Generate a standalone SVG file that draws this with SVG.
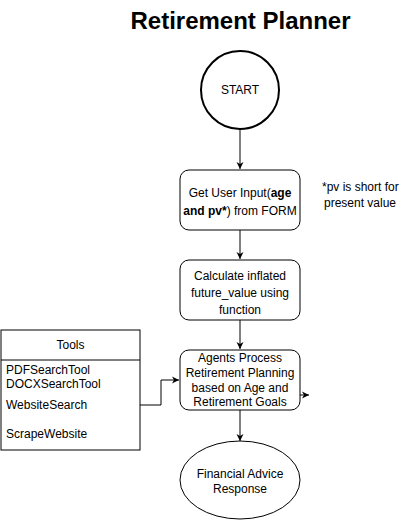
<svg xmlns="http://www.w3.org/2000/svg" width="401" height="521" viewBox="0 0 401 521">
<style>
text{font-family:"Liberation Sans",Arial,sans-serif;font-size:12px;fill:#000}
.c{text-anchor:middle}
.shape{fill:#fff;stroke:#000;stroke-width:1}
.edge{fill:none;stroke:#000;stroke-width:1}
.b{font-weight:bold}
</style>
<defs>
<marker id="arr" markerWidth="8" markerHeight="8" refX="7" refY="4" orient="auto" markerUnits="userSpaceOnUse">
<path d="M0,0.5 L7,4 L0,7.5 L2,4 Z" fill="#000"/>
</marker>
</defs>
<rect width="401" height="521" fill="#fff"/>
<text x="240.5" y="29" class="c b" style="font-size:24px">Retirement Planner</text>
<g id="connectors">
<path class="edge" d="M240,129 V169" marker-end="url(#arr)"/>
<path class="edge" d="M240,230 V259" marker-end="url(#arr)"/>
<path class="edge" d="M240,320 V349" marker-end="url(#arr)"/>
<path class="edge" d="M240,410 V441" marker-end="url(#arr)"/>
<path class="edge" d="M140,405 H161 V380 H179" marker-end="url(#arr)"/>
<path class="edge" d="M300,395 H309" marker-end="url(#arr)"/>
</g>
<g id="start">
<circle class="shape" cx="240" cy="90" r="39" style="stroke-width:2"/>
<text x="240" y="94" class="c">START</text>
</g>
<g id="input">
<rect class="shape" x="180" y="170" width="120" height="60" rx="9"/>
<text x="240" y="197" class="c">Get User Input(<tspan class="b">age</tspan></text>
<text x="240" y="215" class="c"><tspan class="b">and pv*</tspan>) from FORM</text>
</g>
<g id="note">
<text x="322" y="191">*pv is short for</text>
<text x="324" y="207">present value</text>
</g>
<g id="calc">
<rect class="shape" x="180" y="260" width="120" height="60" rx="9"/>
<text x="240" y="280" class="c">Calculate inflated</text>
<text x="240" y="297" class="c">future_value using</text>
<text x="240" y="314" class="c">function</text>
</g>
<g id="agents">
<rect class="shape" x="180" y="350" width="120" height="60" rx="9"/>
<text x="240" y="362" class="c">Agents Process</text>
<text x="240" y="377" class="c">Retirement Planning</text>
<text x="240" y="392" class="c">based on Age and</text>
<text x="240" y="406" class="c">Retirement Goals</text>
</g>
<g id="response">
<ellipse class="shape" cx="240" cy="480" rx="60" ry="39"/>
<text x="240" y="478" class="c">Financial Advice</text>
<text x="240" y="493" class="c">Response</text>
</g>
<g id="tools">
<rect class="shape" x="1" y="330" width="139" height="120"/>
<line class="edge" x1="1" y1="360" x2="140" y2="360"/>
<text x="70.5" y="349" class="c">Tools</text>
<text x="6" y="374">PDFSearchTool</text>
<text x="6" y="388">DOCXSearchTool</text>
<text x="6" y="409">WebsiteSearch</text>
<text x="6" y="438">ScrapeWebsite</text>
</g>
</svg>
